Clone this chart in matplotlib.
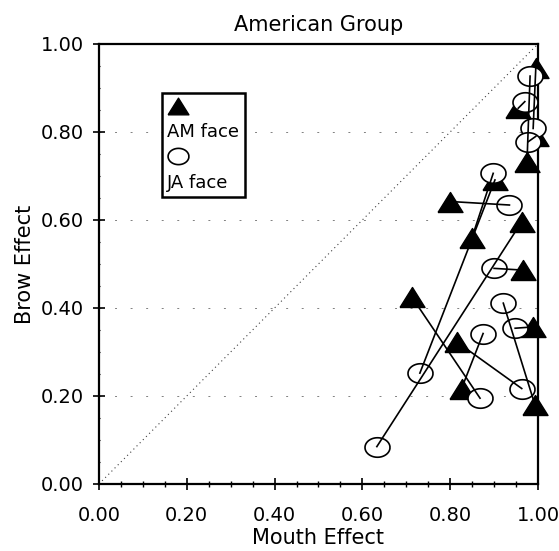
import numpy as np
import matplotlib
matplotlib.use("Agg")
import matplotlib.pyplot as plt
from matplotlib.lines import Line2D
from matplotlib.ticker import MultipleLocator

# AM face (triangles) and the matching JA face (ellipses), one pair per row
am_x = [0.995, 0.955, 0.975, 0.902, 0.800, 0.963, 0.849, 0.967, 0.712, 0.989, 0.815, 0.826, 0.993, 0.995]
am_y = [0.945, 0.854, 0.732, 0.691, 0.642, 0.596, 0.558, 0.486, 0.426, 0.357, 0.323, 0.217, 0.180, 0.790]
ja_x = [0.989, 0.970, 0.982, 0.731, 0.935, 0.633, 0.898, 0.900, 0.868, 0.948, 0.963, 0.875, 0.921, 0.978]
ja_y = [0.808, 0.869, 0.927, 0.252, 0.634, 0.085, 0.706, 0.490, 0.195, 0.354, 0.217, 0.342, 0.411, 0.778]

ticks = [0.0, 0.2, 0.4, 0.6, 0.8, 1.0]
tick_labels = ["0.00", "0.20", "0.40", "0.60", "0.80", "1.00"]

# marker shapes: flat triangle and flat ellipse
tri = [(-1, -0.8), (1, -0.8), (0, 0.8), (-1, -0.8)]
t = np.linspace(0, 2 * np.pi, 60)
ell = list(zip(np.cos(t), 0.78 * np.sin(t)))

fig = plt.figure(figsize=(5.59, 5.51), dpi=100)
ax = fig.add_axes([0.177, 0.1216, 0.7854, 0.7986])

# diagonal reference line
ax.plot([0, 1], [0, 1], color="0.25", lw=0.8, ls=(0, (1, 3)), zorder=1)

for y in ticks[1:-1]:
    ax.axhline(y, color="0.5", lw=0.7, ls=(0, (2, 14)), zorder=1)

for i in range(len(am_x)):
    ax.plot([am_x[i], ja_x[i]], [am_y[i], ja_y[i]], color="black", lw=1.2,
            zorder=5, clip_on=False)

ax.plot(am_x, am_y, ls="none", marker=tri, ms=18, mfc="black", mec="black",
        zorder=3, clip_on=False)
ax.plot(ja_x, ja_y, ls="none", marker=ell, ms=18, mfc="white", mec="black",
        mew=1.2, zorder=4, clip_on=False)

ax.set_xlim(0, 1)
ax.set_ylim(0, 1)
ax.set_xticks(ticks)
ax.set_xticklabels(tick_labels)
ax.set_yticks(ticks)
ax.set_yticklabels(tick_labels)
ax.xaxis.set_minor_locator(MultipleLocator(0.05))
ax.yaxis.set_minor_locator(MultipleLocator(0.05))
ax.tick_params(which="major", direction="inout", length=8, width=1.2,
               labelsize=14, colors="black")
ax.tick_params(axis="x", which="minor", direction="inout", length=4, width=1.0)
ax.tick_params(axis="y", which="minor", direction="inout", length=2, width=0.8)
ax.tick_params(axis="x", which="major", pad=12)
ax.tick_params(axis="y", which="major", pad=7)
for s in ax.spines.values():
    s.set_linewidth(1.6)

ax.set_title("American Group", fontsize=15, pad=9)
ax.set_xlabel("Mouth Effect", fontsize=15, labelpad=2)
ax.set_ylabel("Brow Effect", fontsize=15, labelpad=4)

# legend: marker on one row, its label on the row below
h_am = Line2D([], [], ls="none", marker=tri, ms=15, mfc="black", mec="black")
h_ja = Line2D([], [], ls="none", marker=ell, ms=15, mfc="white", mec="black", mew=1.2)
h_none = Line2D([], [], ls="none")
leg = ax.legend([h_am, h_none, h_ja, h_none], ["", "AM face", "", "JA face"],
                loc="upper left", bbox_to_anchor=(0.1435, 0.889), borderaxespad=0,
                fontsize=13, handlelength=1.2, handletextpad=-1.2,
                labelspacing=0.4, borderpad=0.3, fancybox=False, framealpha=1)
leg.get_frame().set_edgecolor("black")
leg.get_frame().set_linewidth(1.8)

fig.savefig("out.png", dpi=100)
